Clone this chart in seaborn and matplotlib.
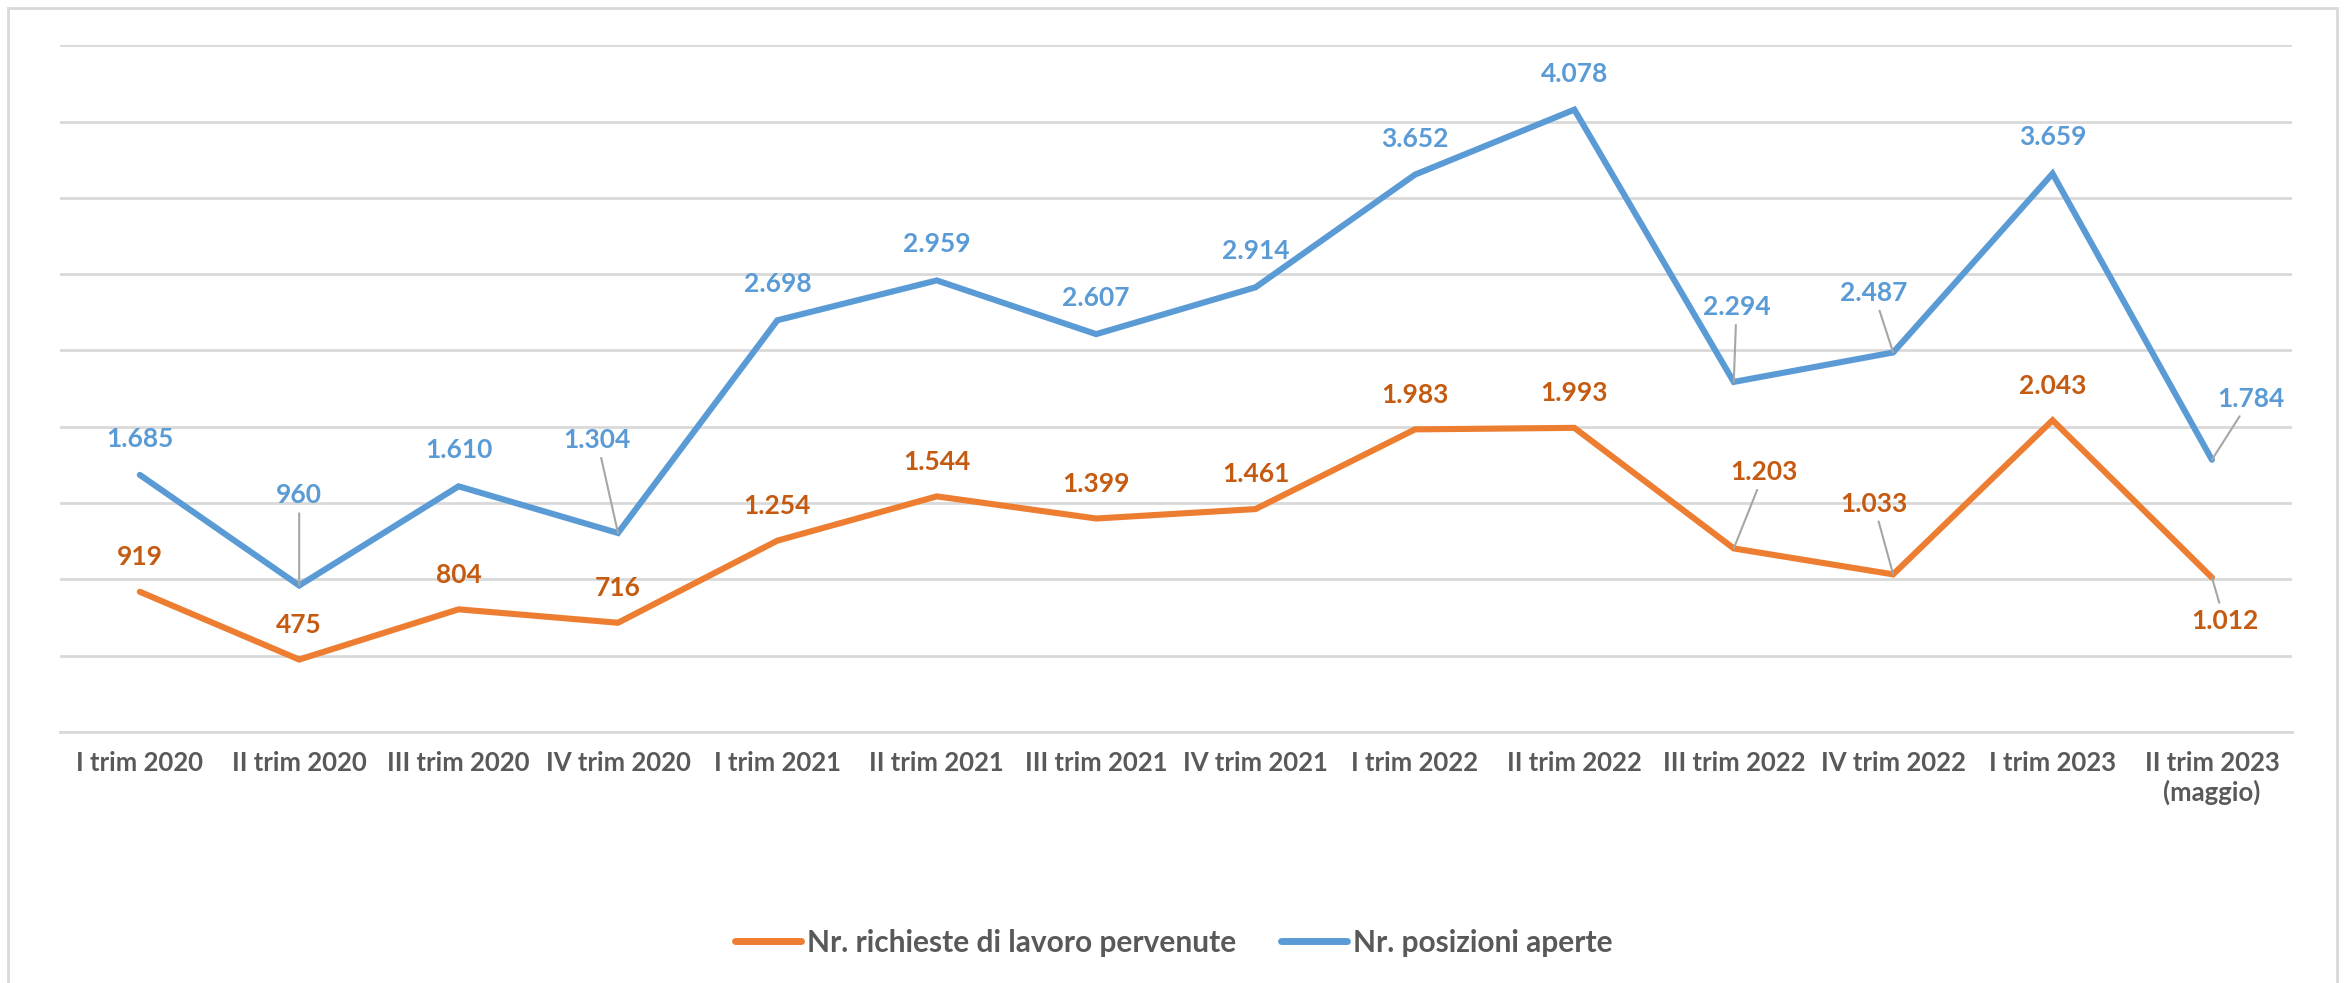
import numpy as np
import pandas as pd
import matplotlib
matplotlib.use("Agg")
import matplotlib.pyplot as plt
import seaborn as sns
from matplotlib.patches import Rectangle

categories = ["I trim 2020", "II trim 2020", "III trim 2020", "IV trim 2020",
              "I trim 2021", "II trim 2021", "III trim 2021", "IV trim 2021",
              "I trim 2022", "II trim 2022", "III trim 2022", "IV trim 2022",
              "I trim 2023", "II trim 2023\n(maggio)"]
richieste = [919, 475, 804, 716, 1254, 1544, 1399, 1461, 1983, 1993, 1203, 1033, 2043, 1012]
posizioni = [1685, 960, 1610, 1304, 2698, 2959, 2607, 2914, 3652, 4078, 2294, 2487, 3659, 1784]
series_names = ["Nr. richieste di lavoro pervenute", "Nr. posizioni aperte"]

# label offsets in points (dx, dy) and whether a leader line is drawn
rich_off = [(0, 25)] * 14
rich_off[10] = (22, 55)
rich_off[11] = (-14, 51)
rich_off[13] = (9, -31)
rich_lead = [False] * 14
rich_lead[10] = rich_lead[11] = rich_lead[13] = True

pos_off = [(0, 26)] * 14
pos_off[1] = (0, 65)
pos_off[3] = (-15, 67)
pos_off[10] = (2, 54)
pos_off[11] = (-14, 43)
pos_off[13] = (28, 44)
pos_lead = [False] * 14
for i in (1, 3, 10, 11, 13):
    pos_lead[i] = True

ORANGE = "#ED7D31"
BLUE = "#5B9BD5"
ORANGE_TXT = "#C55A11"
GRAY_TXT = "#595959"
GRID = "#D9D9D9"

sns.set_theme(style="white")
plt.rcParams["font.family"] = ["Lato", "DejaVu Sans"]

df = pd.DataFrame({
    "x": list(range(len(categories))) * 2,
    "value": richieste + posizioni,
    "serie": [series_names[0]] * len(categories) + [series_names[1]] * len(categories),
})

fig = plt.figure(figsize=(23.48, 9.83), dpi=100)
ax = fig.add_axes([0.0256, 0.2553, 0.9504, 0.6987])

sns.lineplot(data=df, x="x", y="value", hue="serie", hue_order=series_names,
             palette=[ORANGE, BLUE], linewidth=4.4, ax=ax, legend=True,
             solid_joinstyle="miter")

ax.set_xlim(-0.5, len(categories) - 0.5)
ax.set_ylim(0, 4500)
ax.set_yticks(np.arange(0, 4501, 500))
ax.set_yticklabels([])
ax.tick_params(axis="y", length=0)
ax.grid(axis="y", color=GRID, linewidth=2)
ax.grid(axis="x", visible=False)
for s in ["left", "right", "top"]:
    ax.spines[s].set_visible(False)
ax.spines["bottom"].set_color(GRID)
ax.spines["bottom"].set_linewidth(2)
ax.set_xticks(range(len(categories)))
ax.set_xticklabels(categories, fontsize=18.5, fontweight="bold", color=GRAY_TXT)
ax.tick_params(axis="x", length=0, pad=14)
ax.set_xlabel("")
ax.set_ylabel("")


def fmt(v):
    return f"{v:,}".replace(",", ".")


def label(vals, offs, leads, color):
    for i, v in enumerate(vals):
        ap = None
        if leads[i]:
            ap = dict(arrowstyle="-", color="#A6A6A6", lw=1.5, shrinkA=2, shrinkB=0)
        ax.annotate(fmt(v), xy=(i, v), xytext=offs[i], textcoords="offset points",
                    ha="center", va="center", fontsize=19, fontweight="bold",
                    color=color, arrowprops=ap, zorder=5)


label(richieste, rich_off, rich_lead, ORANGE_TXT)
label(posizioni, pos_off, pos_lead, BLUE)

handles, labels_ = ax.get_legend_handles_labels()
ax.get_legend().remove()
leg = fig.legend(handles, labels_, loc="center", bbox_to_anchor=(0.5, 0.041), ncol=2,
                 frameon=False, handlelength=2.2, columnspacing=1.5, handletextpad=0.2,
                 prop={"size": 21.5, "weight": "bold"})
for t in leg.get_texts():
    t.set_color(GRAY_TXT)
for h in leg.get_lines():
    h.set_linewidth(5)

fig.patches.append(Rectangle((0.0032, -0.02), 0.9921, 1.012, transform=fig.transFigure,
                             fill=False, edgecolor=GRID, linewidth=2))

fig.savefig("out.png", dpi=100)
